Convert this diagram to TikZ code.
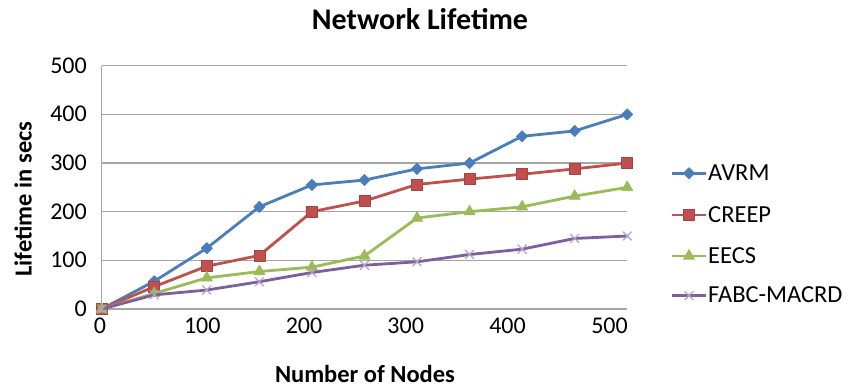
\documentclass[tikz,border=0pt]{standalone}
\usepackage{fontspec}
\setmainfont{Carlito}
\usetikzlibrary{plotmarks}
\definecolor{cAVRM}{HTML}{4A7EBB}
\definecolor{cCREEP}{HTML}{C0504D}
\definecolor{cEECS}{HTML}{9BBB59}
\definecolor{cFABC}{HTML}{7D5FA0}
\definecolor{cFABCmark}{HTML}{B3A2C7}
\definecolor{gridgray}{HTML}{A6A6A6}
\tikzset{
  gridline/.style={draw=gridgray, line width=1.1pt},
  series/.style={line width=2.8pt, line join=round, line cap=round},
  avrm/.style={series, draw=cAVRM, mark=square*, mark size=4pt,
    mark options={rotate=45, fill=cAVRM, draw=cAVRM, line width=0.6pt}},
  creep/.style={series, draw=cCREEP, mark=square*, mark size=5.5pt,
    mark options={fill=cCREEP, draw=cCREEP!85!black, line width=0.6pt}},
  eecs/.style={series, draw=cEECS, mark=triangle*, mark size=6.5pt,
    mark options={fill=cEECS, draw=cEECS, line width=0.6pt}},
  fabc/.style={series, draw=cFABC, mark=x, mark size=6pt,
    mark options={draw=cFABCmark, line width=1.2pt}},
  ticklabel/.style={font=\fontsize{24}{28}\selectfont, inner sep=0pt},
  axistitle/.style={font=\fontsize{24.5}{28}\selectfont\bfseries, inner sep=0pt},
  legendtext/.style={font=\fontsize{24.5}{28}\selectfont, inner sep=0pt, anchor=base west},
}
\begin{document}
\begin{tikzpicture}[x=1pt, y=-1pt]
\useasboundingbox[fill=white] (0,0) rectangle (859,387);

% title and axis titles
\node[font=\fontsize{30}{34}\selectfont\bfseries, inner sep=0pt, anchor=base] (title) at (420,29.3) {Network Lifetime};
\node[axistitle, anchor=base] (xtitle) at (365,382.3) {Number of Nodes};
\node[axistitle, anchor=base, rotate=90] (ytitle) at (31.5,199) {Lifetime in secs};

% y tick labels
\foreach \v in {0,100,200,300,400,500}
  \node[ticklabel, anchor=base east] (ylab\v) at (87, 309-0.4865*\v+7.5) {\v};

% x tick labels
\foreach \v/\px in {0/100,100/202.3,200/304,300/405.7,400/507.5,500/609.5}
  \node[ticklabel, anchor=base] (xlab\v) at (\px,333) {\v};

% plot area in data units (y grows upwards)
\begin{scope}[shift={(101.7,309)}, x=1.051pt, y=0.4865pt]
  \foreach \v in {100,200,300,400,500}
    \draw[gridline] (0,\v) -- (500,\v);
  \draw[gridline] (0,0) -- (500,0);
  \draw[gridline] (0,0) -- (0,500);

  \draw[avrm] plot coordinates {(0,0) (50,57) (100,125) (150,210) (200,255) (250,265)
    (300,288) (350,300) (400,355) (450,366) (500,400)};
  \draw[creep] plot coordinates {(0,0) (50,46) (100,88) (150,110) (200,200) (250,222)
    (300,256) (350,267) (400,277) (450,288) (500,300)};
  \draw[eecs] plot coordinates {(0,0) (50,32) (100,64) (150,77) (200,86) (250,109)
    (300,187) (350,200) (400,210) (450,232) (500,250)};
  \draw[fabc] plot coordinates {(0,0) (50,29) (100,39) (150,56) (200,75) (250,90)
    (300,97) (350,112) (400,123) (450,145) (500,150)};
\end{scope}

% legend
\foreach \st/\txt/\y in {avrm/AVRM/173.3, creep/CREEP/215, eecs/EECS/256, fabc/FABC-MACRD/295.7}{
  \coordinate (\txt-a) at (672,\y);
  \coordinate (\txt-b) at (706,\y);
  \draw[\st, mark=none, line cap=butt] (\txt-a) -- (\txt-b);
  \path[\st, draw=none] plot coordinates {(689,\y)};
  \node[legendtext] (\txt-label) at (708,\y+7.2) {\txt};
}
\end{tikzpicture}
\end{document}
